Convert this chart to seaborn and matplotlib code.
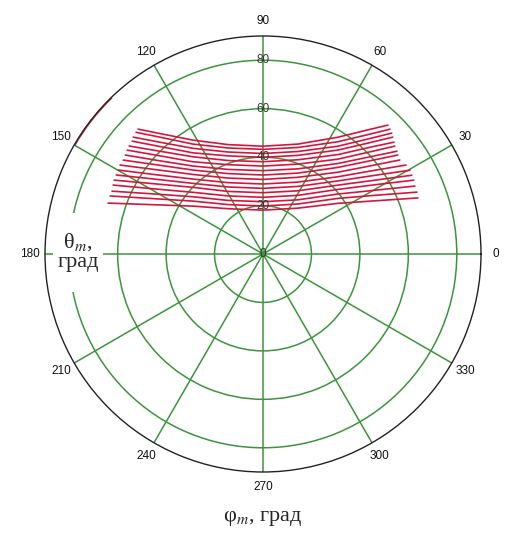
import numpy as np
import pandas as pd
import matplotlib
matplotlib.use("Agg")
import matplotlib.pyplot as plt
from matplotlib.patches import Rectangle
import seaborn as sns

# angle labels around the rim
phi_ticks = list(range(0, 360, 30))
theta_ticks = [20, 40, 60, 80]
theta_max = 90

# 16 curves theta_m(phi_m) at nine points each (degrees),
# listed from the left end to the right end of each curve
left_phi = [135.0, 136.2, 138.0, 139.2, 141.1, 142.6, 144.3, 146.1, 148.1, 149.9, 151.7, 153.6, 155.3, 157.4, 159.2, 161.8]
left_theta = [72.9, 72.6, 72.1, 71.3, 71.0, 70.6, 70.0, 69.5, 69.5, 69.1, 68.8, 68.6, 68.1, 67.5, 67.5, 67.3]
p2_phi = [131.0, 131.8, 133.1, 134.2, 135.5, 136.8, 138.3, 139.7, 141.3, 143.0, 144.6, 146.3, 148.3, 150.3, 152.3, 154.9]
p2_theta = [66.1, 64.9, 63.4, 62.1, 60.7, 59.4, 58.0, 56.8, 55.5, 54.2, 53.1, 52.0, 50.9, 49.8, 48.9, 47.8]
p3_phi = [121.6, 122.5, 123.5, 124.7, 125.7, 127.2, 128.5, 129.8, 131.3, 133.0, 134.7, 136.4, 138.6, 140.7, 142.9, 145.6]
p3_theta = [55.2, 53.8, 52.3, 50.8, 49.4, 47.8, 46.4, 45.1, 43.7, 42.3, 41.0, 39.9, 38.5, 37.3, 36.2, 35.0]
p4_phi = [107.7, 108.3, 108.9, 109.6, 110.5, 111.4, 112.5, 113.5, 114.7, 116.1, 117.5, 119.2, 121.1, 123.1, 125.3, 127.6]
p4_theta = [47.4, 46.1, 44.5, 43.0, 41.2, 39.6, 37.8, 36.2, 34.5, 32.8, 31.2, 29.6, 28.0, 26.4, 25.0, 23.6]
top_phi = [90.0] * 16
top_theta = [44.5, 43.2, 41.5, 39.9, 38.1, 36.3, 34.4, 32.6, 30.8, 28.9, 27.1, 25.3, 23.4, 21.6, 19.8, 18.1]
p6_phi = [72.4, 71.8, 71.2, 70.5, 69.6, 68.8, 67.7, 66.6, 65.5, 64.1, 62.7, 61.1, 59.2, 57.2, 55.0, 52.7]
p6_theta = [47.6, 46.3, 44.7, 43.2, 41.5, 39.8, 38.0, 36.4, 34.8, 33.0, 31.4, 29.8, 28.2, 26.6, 25.2, 23.8]
p7_phi = [57.3, 56.3, 55.2, 54.2, 53.0, 51.7, 50.4, 49.1, 47.5, 45.9, 44.3, 42.6, 40.8, 38.7, 36.6, 34.1]
p7_theta = [57.3, 55.7, 54.2, 52.9, 51.4, 49.9, 48.5, 47.3, 45.8, 44.4, 43.2, 42.0, 40.8, 39.6, 38.5, 37.3]
p8_phi = [49.8, 48.7, 47.6, 46.6, 45.4, 44.1, 42.7, 41.5, 39.9, 38.2, 36.5, 34.8, 33.1, 31.0, 29.0, 26.7]
p8_theta = [67.1, 65.6, 64.3, 63.0, 61.6, 60.3, 58.9, 57.8, 56.4, 55.1, 53.9, 52.7, 51.7, 50.5, 49.5, 48.4]
right_phi = [45.9, 44.5, 43.2, 42.0, 40.5, 39.3, 37.5, 36.3, 34.5, 31.9, 29.7, 27.9, 26.1, 24.1, 21.9, 19.9]
right_theta = [74.1, 73.5, 72.9, 72.1, 71.1, 70.3, 69.7, 69.0, 68.5, 69.5, 69.8, 69.5, 69.3, 68.7, 68.5, 68.0]

# faint red trace lying on the rim near 150 deg
rim_phi_from = 134
rim_phi_to = 150

sns.set_theme(style="white")
plt.rcParams['font.family'] = ['Liberation Sans', 'DejaVu Sans']
plt.rcParams['mathtext.fontset'] = 'stix'

cols = [(left_phi, left_theta), (p2_phi, p2_theta), (p3_phi, p3_theta), (p4_phi, p4_theta),
        (top_phi, top_theta), (p6_phi, p6_theta), (p7_phi, p7_theta), (p8_phi, p8_theta),
        (right_phi, right_theta)]
rows = []
for k in range(len(top_theta)):
    for ph, th in cols:
        rows.append({'curve': k, 'phi': np.deg2rad(ph[k]), 'theta': th[k]})
df = pd.DataFrame(rows)

W, H = 511, 542
fig = plt.figure(figsize=(W / 100, H / 100), dpi=100)
cx, cy, R = 263, 254, 218
ax = fig.add_axes([(cx - R) / W, (H - cy - R) / H, 2 * R / W, 2 * R / H], projection='polar')

sns.lineplot(data=df, x='phi', y='theta', units='curve', estimator=None, sort=False,
             color='#d4163f', lw=1.2, ax=ax, legend=False)

ax.bar(np.deg2rad((rim_phi_from + rim_phi_to) / 2), 0.6, bottom=theta_max - 0.6,
       width=np.deg2rad(rim_phi_to - rim_phi_from), color='#c8283c', edgecolor='none')

ax.set_ylim(0, theta_max)
ax.set_yticks(theta_ticks)
ax.set_yticklabels([])
ax.set_xticks(np.deg2rad(phi_ticks))
ax.set_xticklabels([str(p) for p in phi_ticks], fontsize=8.5, color='#111111')
ax.tick_params(axis='x', pad=-2)
ax.grid(True, color='#3c953c', lw=1.1)
ax.spines['polar'].set_color('#222222')
ax.spines['polar'].set_linewidth(1.0)
ax.set_xlabel('')
ax.set_ylabel('')

for r in [0] + theta_ticks:
    ax.text(np.pi / 2, r, str(r), ha='center', va='center', fontsize=8.5, color='#333333')

# white box with the radial-axis title on the left
fig.patches.append(Rectangle((53 / W, 1 - 292 / H), 50 / W, 79 / H,
                             transform=fig.transFigure, facecolor='white', edgecolor='none'))
fig.text(78 / W, 1 - 252 / H, 'θ$_m$,\nград', ha='center', va='center', fontsize=16,
         family=['Liberation Serif', 'DejaVu Serif'], linespacing=1.0)
fig.text(cx / W, 1 - 519 / H, 'φ$_m$, град', ha='center', va='center', fontsize=16,
         family=['Liberation Serif', 'DejaVu Serif'])

fig.savefig('out.png', dpi=100)
